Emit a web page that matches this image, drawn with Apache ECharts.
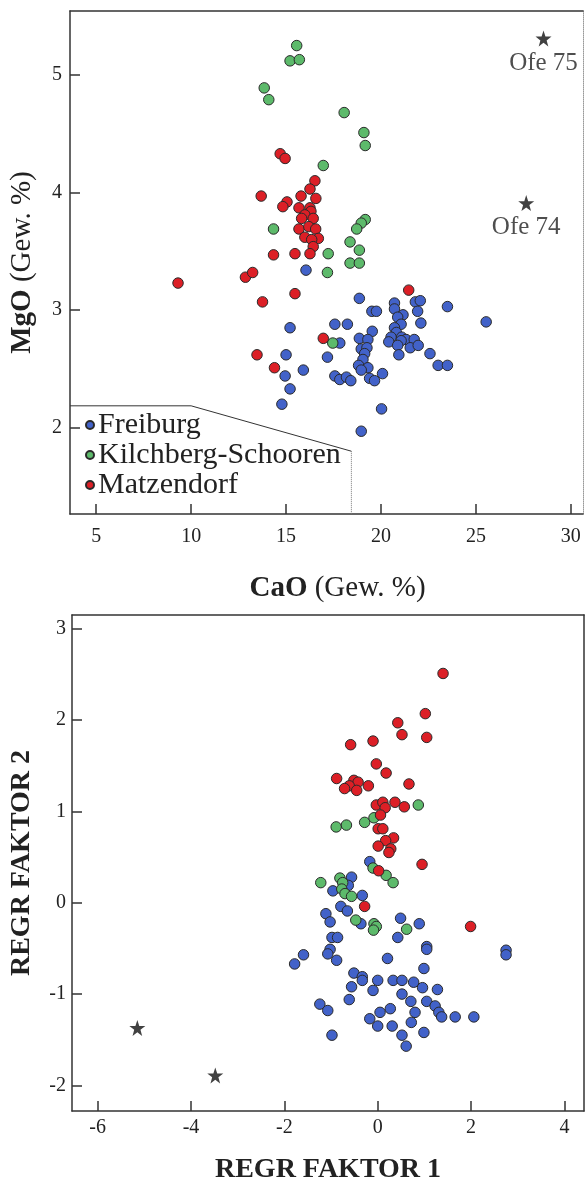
<!DOCTYPE html>
<html><head><meta charset="utf-8">
<script src="https://cdn.jsdelivr.net/npm/echarts@6/dist/echarts.min.js"></script>
<style>html,body{margin:0;padding:0;background:#fff}#c{width:585px;height:1185px}</style>
</head><body><div id="c"></div>
<script>
// ---------- Top chart: CaO vs MgO ----------
const caoTicks = [5, 10, 15, 20, 25, 30];
const mgoTicks = [2, 3, 4, 5];
const freiburgCaMg = [
 [16.05,3.34],[18.86,3.10],[20.71,3.06],[21.81,3.07],[22.07,3.08],[23.5,3.03],[20.71,3.01],[21.93,2.99],
 [19.52,2.99],[19.76,2.99],[21.16,2.96],[20.88,2.94],[22.1,2.89],[25.54,2.90],[21.06,2.88],[17.57,2.88],
 [18.23,2.88],[15.21,2.85],[20.71,2.85],[19.54,2.82],[20.81,2.81],[20.53,2.77],[21.09,2.77],[21.32,2.75],
 [21.75,2.75],[18.86,2.76],[19.31,2.75],[20.41,2.73],[21.06,2.74],[17.83,2.72],[20.88,2.70],[21.54,2.68],
 [21.96,2.70],[18.96,2.67],[19.26,2.68],[19.14,2.63],[15.0,2.62],[20.94,2.62],[22.58,2.63],[17.18,2.60],
 [19.05,2.58],[18.82,2.53],[19.31,2.51],[18.96,2.49],[23.01,2.53],[23.5,2.53],[15.91,2.49],[14.95,2.44],
 [17.57,2.44],[17.83,2.41],[18.18,2.43],[18.41,2.40],[19.4,2.42],[19.66,2.40],[20.08,2.46],[15.21,2.33],
 [14.78,2.20],[20.03,2.16],[18.96,1.97]
];
const kilchbergCaMg = [
 [15.56,5.25],[15.21,5.12],[15.70,5.13],[13.85,4.89],[14.09,4.79],[18.06,4.68],[19.1,4.51],[19.17,4.40],
 [16.96,4.23],[19.17,3.77],[18.96,3.74],[18.72,3.69],[14.34,3.69],[18.37,3.58],[18.86,3.51],[17.22,3.48],
 [18.37,3.40],[18.86,3.40],[17.18,3.32],[17.46,2.72]
];
const matzendorfCaMg = [
 [14.69,4.33],[14.95,4.29],[16.52,4.10],[16.26,4.03],[13.69,3.97],[15.79,3.97],[16.57,3.95],[15.05,3.92],
 [14.83,3.88],[15.68,3.87],[16.26,3.87],[16.31,3.84],[15.99,3.81],[15.82,3.78],[16.43,3.78],[15.68,3.69],
 [16.2,3.71],[16.56,3.69],[15.99,3.62],[16.7,3.61],[16.35,3.60],[16.43,3.54],[14.34,3.47],[15.47,3.48],
 [16.26,3.48],[12.86,3.28],[13.24,3.32],[13.76,3.07],[15.47,3.14],[21.46,3.17],[16.96,2.76],[13.47,2.62],
 [14.39,2.51],[9.31,3.23]
];
const ofeNames = ['Ofe 75', 'Ofe 74'];
const ofeCaMg = [[28.56,5.31],[27.65,3.91]];
const legendBoxCaMg = [[3.62,2.186],[10.0,2.186],[18.44,1.80]];
const legendBoxEdge = [[18.44,1.80],[18.44,1.266]];

// ---------- Bottom chart: factor scores ----------
const f1Ticks = [-6, -4, -2, 0, 2, 4];
const f2Ticks = [-2, -1, 0, 1, 2, 3];
const freiburgF = [
 [-0.17,0.45],[-0.56,0.28],[-0.63,0.19],[-0.96,0.13],[-0.33,0.08],[-0.79,-0.04],[-0.65,-0.09],[-1.11,-0.12],
 [-1.02,-0.21],[-0.36,-0.23],[0.49,-0.17],[0.89,-0.23],[-0.98,-0.38],[-0.86,-0.38],[0.43,-0.38],[1.05,-0.48],
 [1.05,-0.51],[2.75,-0.52],[2.75,-0.57],[-1.02,-0.51],[-1.07,-0.56],[-0.88,-0.63],[-1.59,-0.57],[-1.78,-0.67],
 [0.21,-0.61],[0.99,-0.72],[-0.51,-0.77],[-0.33,-0.81],[-0.33,-0.85],[0.0,-0.85],[0.33,-0.85],[0.52,-0.85],
 [0.77,-0.87],[0.96,-0.93],[1.28,-0.95],[-0.56,-0.92],[-0.10,-0.96],[0.52,-1.0],[0.71,-1.08],[1.05,-1.08],
 [-0.61,-1.06],[-1.24,-1.11],[-1.07,-1.18],[1.23,-1.13],[1.31,-1.20],[1.37,-1.25],[1.66,-1.25],[2.06,-1.25],
 [0.27,-1.16],[0.05,-1.20],[0.80,-1.20],[-0.17,-1.27],[0.0,-1.35],[0.31,-1.35],[0.72,-1.31],[0.99,-1.42],
 [0.52,-1.45],[-0.98,-1.45],[0.61,-1.57]
];
const kilchbergF = [
 [0.87,1.07],[-0.89,0.83],[-0.67,0.85],[-0.28,0.88],[-0.08,0.93],[-0.10,0.38],[0.18,0.30],[0.33,0.22],
 [-1.22,0.22],[-0.81,0.27],[-0.75,0.22],[-0.77,0.15],[-0.70,0.10],[-0.56,0.07],[-0.47,-0.19],[-0.08,-0.23],
 [-0.03,-0.26],[-0.09,-0.30],[0.62,-0.29]
];
const matzendorfF = [
 [1.40,2.51],[1.02,2.07],[0.43,1.97],[0.52,1.84],[1.05,1.81],[-0.58,1.73],[-0.10,1.77],[-0.03,1.52],
 [0.18,1.42],[-0.88,1.36],[-0.51,1.34],[-0.42,1.32],[-0.61,1.28],[-0.71,1.25],[-0.45,1.23],[-0.20,1.28],
 [0.67,1.30],[-0.03,1.07],[0.11,1.10],[0.16,1.04],[0.37,1.10],[0.57,1.05],[0.06,0.96],[0.01,0.81],
 [0.11,0.81],[0.34,0.71],[0.17,0.68],[0.01,0.62],[0.28,0.59],[0.24,0.55],[0.95,0.42],[0.02,0.35],
 [-0.28,-0.04],[1.99,-0.26]
];
const ofeF = [[-5.15,-1.37],[-3.48,-1.89]];

const FONT = 'Liberation Serif';
const INK = '#222';
const COLORS = {Freiburg:'#4262c9', 'Kilchberg-Schooren':'#5dba6b', Matzendorf:'#dc1f26'};
const STAR = 'path://M50,0 L61.8,35.1 L98.9,35.1 L69.1,57.3 L79.4,92.7 L50,71.3 L20.6,92.7 L30.9,57.3 L1.1,35.1 L38.2,35.1 Z';

function dots(name, data, xi) {
  return {
    type:'scatter', name, data, xAxisIndex:xi, yAxisIndex:xi,
    symbol:'circle', symbolSize:10.5,
    itemStyle:{color:COLORS[name], borderColor:'#2a2a2a', borderWidth:1, opacity:1},
    emphasis:{disabled:true}, silent:true
  };
}
const tickLabel = {fontFamily:FONT, fontSize:20, color:INK};
function valAxis(opts) {
  return Object.assign({
    type:'value', splitLine:{show:false},
    axisLine:{show:true, onZero:false, lineStyle:{color:'#333', width:1.5}},
    axisTick:{show:true, inside:true, length:10, lineStyle:{color:'#333', width:1.5}}
  }, opts);
}
function frameAxis(opts, color, type) {
  return Object.assign({
    type:'value', splitLine:{show:false}, axisTick:{show:false}, axisLabel:{show:false},
    axisLine:{show:true, onZero:false, lineStyle:{color:color, width:color==='#333'?1.5:1, type:type}}
  }, opts);
}

const chart = echarts.init(document.getElementById('c'), null, {renderer:'canvas'});
chart.setOption({
  animation:false,
  backgroundColor:'#fff',
  grid:[
    {left:67, top:11, width:516, height:503, show:false},
    {left:68, top:615, width:516, height:502, show:false}
  ],
  legend:{
    data:['Freiburg','Kilchberg-Schooren','Matzendorf'],
    orient:'vertical', left:85, top:410, padding:0, itemGap:0,
    icon:'circle', itemWidth:8, itemHeight:8,
    textStyle:{fontFamily:FONT, fontSize:30, color:INK, lineHeight:30, padding:[0,0,0,-1]},
    selectedMode:false
  },
  xAxis:[
    valAxis({gridIndex:0, min:3.62, max:30.64, position:'bottom',
      axisTick:{show:true, inside:true, length:10, customValues:caoTicks, lineStyle:{color:'#333', width:1.5}},
      axisLabel:Object.assign({customValues:caoTicks, margin:13}, tickLabel),
      name:'{b|CaO} (Gew. %)', nameLocation:'middle', nameGap:60,
      nameTextStyle:{fontFamily:FONT, fontSize:29, color:INK, padding:[0,0,0,22],
        rich:{b:{fontFamily:FONT, fontSize:29, fontWeight:'bold', color:INK}}}}),
    valAxis({gridIndex:1, min:-6.55, max:4.42, position:'bottom',
      axisTick:{show:true, inside:true, length:10, customValues:f1Ticks, lineStyle:{color:'#333', width:1.5}},
      axisLabel:Object.assign({customValues:f1Ticks, margin:7}, tickLabel),
      name:'REGR FAKTOR 1', nameLocation:'middle', nameGap:45,
      nameTextStyle:{fontFamily:FONT, fontSize:28, fontWeight:'bold', color:INK}}),
    frameAxis({gridIndex:0, min:3.62, max:30.64, position:'top'}, '#333', 'solid'),
    frameAxis({gridIndex:1, min:-6.55, max:4.42, position:'top'}, '#333', 'solid')
  ],
  yAxis:[
    valAxis({gridIndex:0, min:1.266, max:5.544, position:'left',
      axisTick:{show:true, inside:true, length:10, customValues:mgoTicks, lineStyle:{color:'#333', width:1.5}},
      axisLabel:Object.assign({customValues:mgoTicks, margin:8}, tickLabel),
      name:'{b|MgO} (Gew. %)', nameLocation:'middle', nameGap:33, nameRotate:90,
      nameTextStyle:{fontFamily:FONT, fontSize:29, color:INK,
        rich:{b:{fontFamily:FONT, fontSize:29, fontWeight:'bold', color:INK}}}}),
    valAxis({gridIndex:1, min:-2.28, max:3.15, position:'left',
      axisTick:{show:true, inside:true, length:10, customValues:f2Ticks, lineStyle:{color:'#333', width:1.5}},
      axisLabel:Object.assign({customValues:f2Ticks, margin:6}, tickLabel),
      name:'REGR FAKTOR 2', nameLocation:'middle', nameGap:36, nameRotate:90,
      nameTextStyle:{fontFamily:FONT, fontSize:28, fontWeight:'bold', color:INK}}),
    frameAxis({gridIndex:0, min:1.266, max:5.544, position:'right'}, '#999', 'dotted'),
    frameAxis({gridIndex:1, min:-2.28, max:3.15, position:'right'}, '#333', 'solid')
  ],
  series:[
    {type:'line', data:legendBoxCaMg, xAxisIndex:0, yAxisIndex:0, symbol:'none', silent:true,
     lineStyle:{color:'#333', width:1}, z:1},
    {type:'line', data:legendBoxEdge, xAxisIndex:0, yAxisIndex:0, symbol:'none', silent:true,
     lineStyle:{color:'#777', width:1, type:'dotted'}, z:1},
    dots('Freiburg', freiburgCaMg, 0),
    dots('Kilchberg-Schooren', kilchbergCaMg, 0),
    dots('Matzendorf', matzendorfCaMg, 0),
    {type:'scatter', name:'Ofe', xAxisIndex:0, yAxisIndex:0, symbol:STAR, symbolSize:16,
     data:ofeCaMg.map((p,i)=>({value:p, name:ofeNames[i]})),
     itemStyle:{color:'#111'}, silent:true,
     label:{show:true, position:'bottom', distance:4, formatter:'{b}', fontFamily:FONT, fontSize:25, color:INK}},
    dots('Freiburg', freiburgF, 1),
    dots('Kilchberg-Schooren', kilchbergF, 1),
    dots('Matzendorf', matzendorfF, 1),
    {type:'scatter', name:'OfeF', xAxisIndex:1, yAxisIndex:1, symbol:STAR, symbolSize:16,
     data:ofeF, itemStyle:{color:'#111'}, silent:true}
  ]
});
</script></body></html>
